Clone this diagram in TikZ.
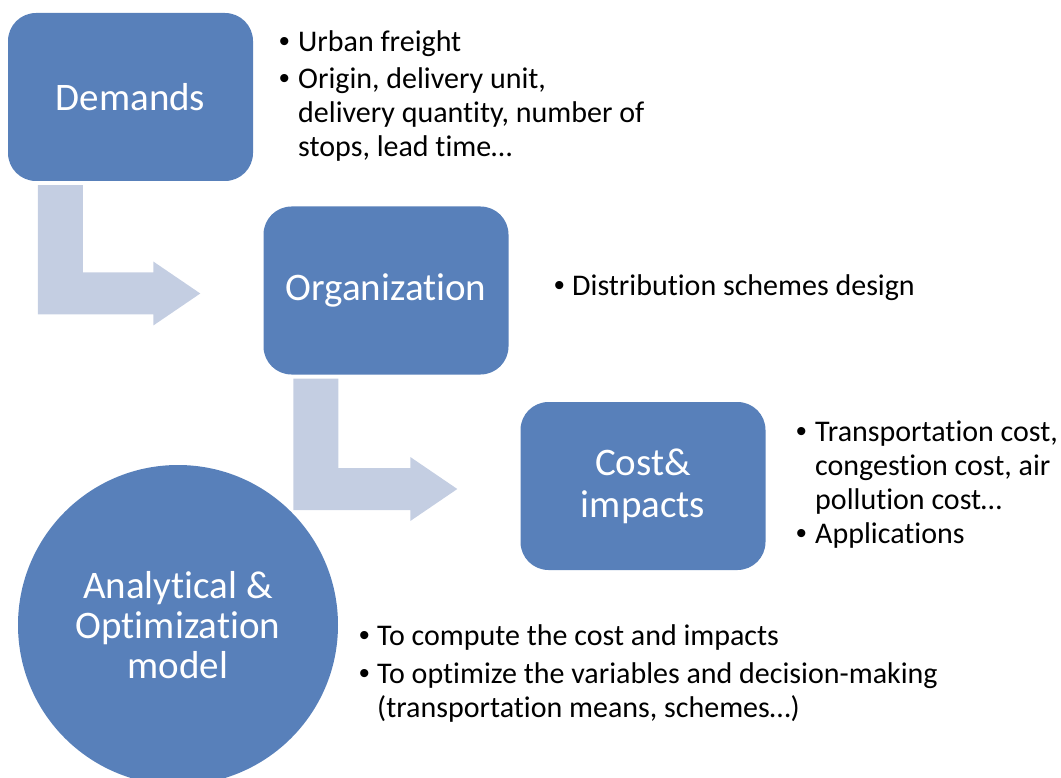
\documentclass[tikz,border=0pt]{standalone}
\usepackage{fontspec}
\usepackage{array}
\setmainfont{Carlito}[Ligatures={NoCommon}]
\newfontfamily\bulletfont{Liberation Sans}
\usetikzlibrary{calc}
\definecolor{boxBlue}{RGB}{88,128,186}
\definecolor{arrowGrey}{RGB}{196,206,226}

\begin{document}
\begin{tikzpicture}[x=1pt, y=-1pt, boxStyle/.style={rectangle, rounded corners=28pt, fill=boxBlue, minimum width=245pt, minimum height=168pt, text=white, align=center, font=\fontsize{39}{42}\selectfont}, circStyle/.style={circle, fill=boxBlue, minimum size=320pt, inner sep=0pt, text=white, align=center, font=\fontsize{39}{40}\selectfont}, listStyle/.style={anchor=base west, inner sep=0pt, font=\fontsize{30}{34}\selectfont}, bentStyle/.style={fill=arrowGrey}]
                    \useasboundingbox (0,0) rectangle (1061,778);

                    \node[boxStyle]  (dem)   at (130.5,  97) {Demands};
                    \node[boxStyle]  (org)   at (386,   290.5) {Organization};
                    \node[boxStyle]  (cost)  at (643,   486) {Cost\&\\impacts};
                    \node[circStyle] (model) at (178,   625) {Analytical \&\\Optimization\\model};

                    \node[listStyle] (dem_T) at (279, 52) {\begin{tabular}[t]{@{}>{\bulletfont}p{19pt}@{}l@{}}
                        • & Urban freight\\[3pt]
                        • & Origin, delivery unit,\\
                          & delivery quantity, number of\\
                          & stops, lead time…
                    \end{tabular}};
                    \node[listStyle] (org_T) at (554, 296) {\begin{tabular}[t]{@{}>{\bulletfont}p{18pt}@{}l@{}}
                        • & Distribution schemes design
                    \end{tabular}};
                    \node[listStyle] (cost_T) at (796, 441) {\begin{tabular}[t]{@{}>{\bulletfont}p{19pt}@{}l@{}}
                        • & Transportation cost,\\
                          & congestion cost, air\\
                          & pollution cost…\\
                        • & Applications
                    \end{tabular}};
                    \node[listStyle] (model_T) at (359, 645) {\begin{tabular}[t]{@{}>{\bulletfont}p{18pt}@{}l@{}}
                        • & To compute the cost and impacts\\[4pt]
                        • & To optimize the variables and decision-making\\
                          & (transportation means, schemes…)
                    \end{tabular}};

                    \foreach \a/\b in {dem/org, org/cost}
                        \fill[bentStyle] let \p1 = ($(\a.south west)+(30,4)$), \p2 = ($(\b.west)+(-63,3)$) in
                            (\x1,\y1) -- (\x1+45pt,\y1) -- (\x1+45pt,\y2+21pt) -- (\x2-47pt,\y2+21pt)
                            -- (\x2-47pt,\y2+32pt) -- (\x2,\y2) -- (\x2-47pt,\y2-32pt)
                            -- (\x2-47pt,\y2-21pt) -- (\x1,\y2-21pt) -- cycle;
                \end{tikzpicture}
\end{document}
